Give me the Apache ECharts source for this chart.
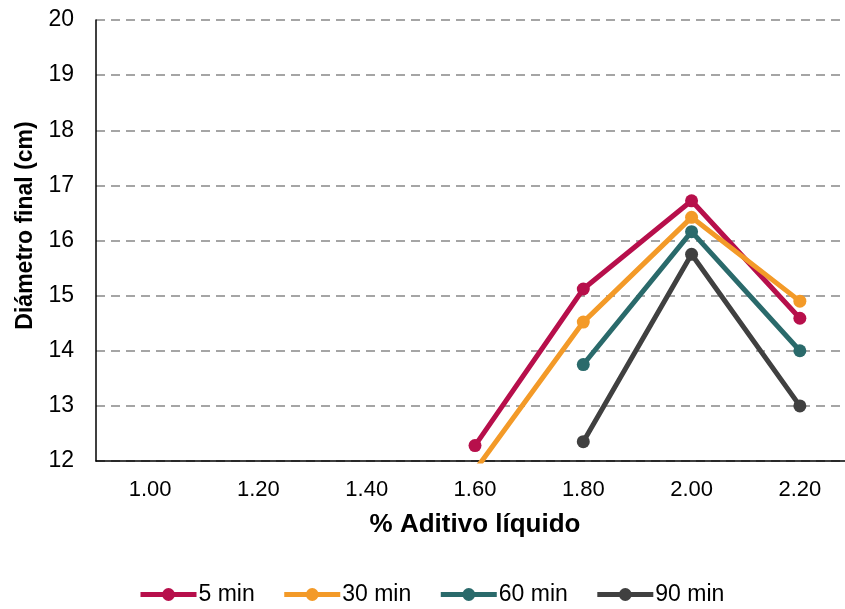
<!DOCTYPE html>
<html><head><meta charset="utf-8">
<script src="https://cdn.jsdelivr.net/npm/echarts@6/dist/echarts.min.js"></script>
<style>html,body{margin:0;padding:0;background:#fff;overflow:hidden;width:845px;height:609px}#c{width:854px;height:609px}</style>
</head><body><div id="c"></div>
<script>
const categories = ['1.00','1.20','1.40','1.60','1.80','2.00','2.20'];
const seriesNames = ['5 min','30 min','60 min','90 min'];
const s5 = [null, null, null, 12.28, 15.12, 16.72, 14.59];
const s30 = [null, null, null, 11.83, 14.52, 16.42, 14.90];
const s60 = [null, null, null, null, 13.75, 16.16, 14.00];
const s90 = [null, null, null, null, 12.35, 15.75, 13.00];
const colors = ['#B70F4B','#F39A28','#2A6A6B','#404040'];
const chart = echarts.init(document.getElementById('c'));
const font = '"Liberation Sans", Arial, sans-serif';
const mk = (name, data, i) => ({
  name, type:'line', data, color: colors[i],
  symbol:'circle', symbolSize:13, clip:true,
  lineStyle:{width:5, color:colors[i]}, itemStyle:{color:colors[i]},
  emphasis:{disabled:true}
});
chart.setOption({
  animation:false,
  textStyle:{fontFamily:font},
  grid:{left:96, right:0, top:20, height:441},
  legend:{top:583, left:138, padding:0, itemWidth:56, itemHeight:16, itemGap:27,
    lineStyle:{width:5},
    textStyle:{fontSize:23, color:'#000', fontFamily:font, padding:[0,0,0,-3]},
    data:seriesNames},
  xAxis:{type:'category', data:categories, boundaryGap:true,
    axisLine:{lineStyle:{color:'#000', width:1.5}}, axisTick:{show:false},
    axisLabel:{fontSize:22, color:'#000', margin:18},
    name:'% Aditivo líquido', nameLocation:'middle', nameGap:51,
    nameTextStyle:{fontSize:26, fontWeight:'bold', color:'#000'}},
  yAxis:{type:'value', min:12, max:20, interval:1,
    axisLine:{show:true, lineStyle:{color:'#000', width:1.5}}, axisTick:{show:false},
    axisLabel:{fontSize:23, color:'#000', margin:22},
    splitLine:{lineStyle:{color:'#888', type:[9,6], width:1.5}},
    name:'Diámetro final (cm)', nameLocation:'middle', nameGap:59,
    nameTextStyle:{fontSize:23, fontWeight:'bold', color:'#000', padding:[0,0,0,30]}},
  series:[mk(seriesNames[0], s5, 0), mk(seriesNames[1], s30, 1), mk(seriesNames[2], s60, 2), mk(seriesNames[3], s90, 3)]
});
</script></body></html>
